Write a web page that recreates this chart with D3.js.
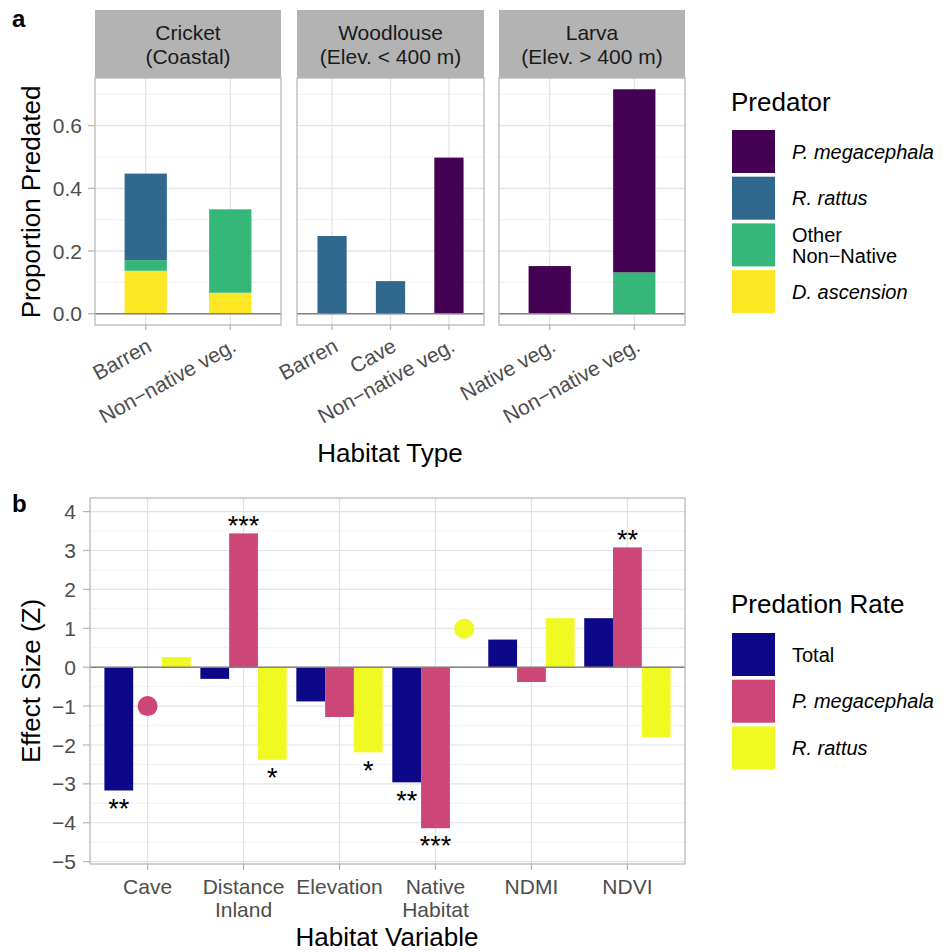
<!DOCTYPE html>
<html>
<head>
<meta charset="utf-8">
<script src="https://cdnjs.cloudflare.com/ajax/libs/d3/7.8.5/d3.min.js"></script>
<style>
  body { margin: 0; background: #fff; }
  text { font-family: "Liberation Sans", Arial, Helvetica, sans-serif; }
</style>
</head>
<body>
<script>
// ---------- panel a data ----------
var stripLabels = [["Cricket", "(Coastal)"], ["Woodlouse", "(Elev. < 400 m)"], ["Larva", "(Elev. > 400 m)"]];
var facetHabitats = [["Barren", "Non\u2212native veg."], ["Barren", "Cave", "Non\u2212native veg."], ["Native veg.", "Non\u2212native veg."]];
var predators = ["P. megacephala", "R. rattus", "Other\nNon\u2212Native", "D. ascension"];
var predatorItalic = [true, true, false, true];
var predatorColors = ["#440154", "#31688E", "#35B779", "#FDE725"];
// proportion predated, per facet, per habitat
var pMegacephala   = [[0, 0], [0, 0, 0.498], [0.152, 0.584]];
var rRattus        = [[0.276, 0], [0.248, 0.104, 0], [0, 0]];
var otherNonNative = [[0.034, 0.266], [0, 0, 0], [0, 0.132]];
var dAscension     = [[0.137, 0.067], [0, 0, 0], [0, 0]];
var ticksA = [0, 0.2, 0.4, 0.6];
var minorA = [0.1, 0.3, 0.5, 0.7];

// ---------- panel b data ----------
var habitatVars = ["Cave", "Distance\nInland", "Elevation", "Native\nHabitat", "NDMI", "NDVI"];
var rateTypes = ["Total", "P. megacephala", "R. rattus"];
var rateItalic = [false, true, true];
var rateColors = ["#0D0887", "#CC4678", "#F0F921"];
var zTotal  = [-3.17, -0.30, -0.88, -2.96, 0.71, 1.26];
var zMega   = [null, 3.44, -1.28, -4.14, -0.38, 3.08];
var zRattus = [0.26, -2.38, -2.19, null, 1.26, -1.80];
// single estimates drawn as points
var zPointMega   = [-1.0, null, null, null, null, null];
var zPointRattus = [null, null, null, 0.99, null, null];
var starsTotal  = ["**", "", "", "**", "", ""];
var starsMega   = ["", "***", "", "***", "", "**"];
var starsRattus = ["", "*", "*", "", "", ""];
var ticksB = [-5, -4, -3, -2, -1, 0, 1, 2, 3, 4];
var minorB = [-4.5, -3.5, -2.5, -1.5, -0.5, 0.5, 1.5, 2.5, 3.5];

var width = 952, height = 952;
var grey = "#4D4D4D", border = "#B3B3B3", major = "#E2E2E2", minor = "#EEEEEE";
var tickFont = "21px";

var svg = d3.select("body").append("svg")
    .attr("width", width)
    .attr("height", height);

// ================= panel a =================
var facetX = [[95, 281], [297, 484], [499, 685]];
var stripTop = 10, panelTop = 78, panelBottom = 325;
var yA = d3.scaleLinear().domain([-0.036, 0.752]).range([panelBottom, panelTop]);
var seriesA = [pMegacephala, rRattus, otherNonNative, dAscension];

svg.append("text").attr("x", 12).attr("y", 27)
    .style("font-size", "24px").style("font-weight", "bold").text("a");

facetHabitats.forEach(function(habs, f) {
  var x = d3.scalePoint().domain(habs).range(facetX[f]).padding(0.6);
  var bw = x.step() * 0.5;
  var g = svg.append("g");
  var x0 = facetX[f][0], x1 = facetX[f][1];

  // strip
  g.append("rect").attr("x", x0).attr("y", stripTop)
      .attr("width", x1 - x0).attr("height", panelTop - stripTop)
      .style("fill", "#B3B3B3");
  stripLabels[f].forEach(function(s, i) {
    g.append("text").attr("x", (x0 + x1) / 2).attr("y", 40 + i * 24)
        .attr("text-anchor", "middle").style("font-size", "21px").style("fill", "#1A1A1A").text(s);
  });

  // grid
  g.selectAll(".minor").data(minorA).enter().append("line")
      .attr("x1", x0).attr("x2", x1).attr("y1", yA).attr("y2", yA)
      .style("stroke", minor).style("stroke-width", 0.8);
  g.selectAll(".major").data(ticksA).enter().append("line")
      .attr("x1", x0).attr("x2", x1).attr("y1", yA).attr("y2", yA)
      .style("stroke", major).style("stroke-width", 1.2);
  g.selectAll(".vgrid").data(habs).enter().append("line")
      .attr("x1", x).attr("x2", x).attr("y1", panelTop).attr("y2", panelBottom)
      .style("stroke", major).style("stroke-width", 1.2);

  // stacked bars: D. ascension at bottom, P. megacephala on top
  habs.forEach(function(h, i) {
    var base = 0;
    for (var s = seriesA.length - 1; s >= 0; s--) {
      var v = seriesA[s][f][i];
      if (v > 0) {
        g.append("rect").attr("x", x(h) - bw / 2).attr("width", bw)
            .attr("y", yA(base + v)).attr("height", yA(base) - yA(base + v))
            .style("fill", predatorColors[s]);
      }
      base += v;
    }
  });

  // zero line
  g.append("line").attr("x1", x0).attr("x2", x1).attr("y1", yA(0)).attr("y2", yA(0))
      .style("stroke", "#808080").style("stroke-width", 1.6);

  g.append("rect").attr("x", x0).attr("y", panelTop)
      .attr("width", x1 - x0).attr("height", panelBottom - panelTop)
      .style("fill", "none").style("stroke", border).style("stroke-width", 1.2);

  // x ticks and rotated labels
  g.selectAll(".xt").data(habs).enter().append("line")
      .attr("x1", x).attr("x2", x).attr("y1", panelBottom).attr("y2", panelBottom + 5)
      .style("stroke", border).style("stroke-width", 1.2);
  g.selectAll(".xl").data(habs).enter().append("text")
      .attr("transform", function(d) { return "translate(" + x(d) + "," + (panelBottom + 12) + ") rotate(-29)"; })
      .attr("text-anchor", "end").attr("dy", "0.72em")
      .style("font-size", tickFont).style("fill", grey)
      .text(function(d) { return d; });
});

// y axis a
var yAxisA = svg.append("g");
yAxisA.selectAll("line").data(ticksA).enter().append("line")
    .attr("x1", 88).attr("x2", 95).attr("y1", yA).attr("y2", yA)
    .style("stroke", border).style("stroke-width", 1.2);
yAxisA.selectAll("text").data(ticksA).enter().append("text")
    .attr("x", 82).attr("y", yA).attr("dy", "0.36em").attr("text-anchor", "end")
    .style("font-size", tickFont).style("fill", grey)
    .text(d3.format(".1f"));

svg.append("text").attr("transform", "translate(40,202) rotate(-90)")
    .attr("text-anchor", "middle").style("font-size", "26px").text("Proportion Predated");
svg.append("text").attr("x", 390).attr("y", 462)
    .attr("text-anchor", "middle").style("font-size", "26px").text("Habitat Type");

// legend a
var legA = svg.append("g").attr("transform", "translate(731,0)");
legA.append("text").attr("x", 0).attr("y", 111).style("font-size", "26px").text("Predator");
predators.forEach(function(p, i) {
  var top = 130 + i * 46.7;
  legA.append("rect").attr("x", 1).attr("y", top).attr("width", 43).attr("height", 43)
      .style("fill", predatorColors[i]);
  var lines = p.split("\n");
  lines.forEach(function(l, j) {
    legA.append("text").attr("x", 61)
        .attr("y", top + 21.5 + (j - (lines.length - 1) / 2) * 21)
        .attr("dy", "0.36em")
        .style("font-size", "20px").style("font-style", predatorItalic[i] ? "italic" : "normal")
        .text(l);
  });
});

// ================= panel b =================
var bx0 = 90, bx1 = 685, bTop = 498, bBottom = 864;
var xB = d3.scalePoint().domain(habitatVars).range([bx0, bx1]).padding(0.6);
var yB = d3.scaleLinear().domain([-5.06, 4.35]).range([bBottom, bTop]);
var step = xB.step(), barW = step * 0.3;
var seriesB = [zTotal, zMega, zRattus];
var pointsB = [null, zPointMega, zPointRattus];
var starsB = [starsTotal, starsMega, starsRattus];

svg.append("text").attr("x", 12).attr("y", 512)
    .style("font-size", "24px").style("font-weight", "bold").text("b");

var gb = svg.append("g");
gb.selectAll(".minor").data(minorB).enter().append("line")
    .attr("x1", bx0).attr("x2", bx1).attr("y1", yB).attr("y2", yB)
    .style("stroke", minor).style("stroke-width", 0.8);
gb.selectAll(".major").data(ticksB).enter().append("line")
    .attr("x1", bx0).attr("x2", bx1).attr("y1", yB).attr("y2", yB)
    .style("stroke", major).style("stroke-width", 1.2);
gb.selectAll(".vgrid").data(habitatVars).enter().append("line")
    .attr("x1", xB).attr("x2", xB).attr("y1", bTop).attr("y2", bBottom)
    .style("stroke", major).style("stroke-width", 1.2);

seriesB.forEach(function(vals, s) {
  var off = (s - 1) * barW;
  habitatVars.forEach(function(h, i) {
    var v = vals[i];
    if (v !== null) {
      gb.append("rect").attr("x", xB(h) + off - barW / 2).attr("width", barW)
          .attr("y", yB(Math.max(0, v))).attr("height", Math.abs(yB(v) - yB(0)))
          .style("fill", rateColors[s]);
    }
    if (pointsB[s] && pointsB[s][i] !== null) {
      gb.append("circle").attr("cx", xB(h) + off).attr("cy", yB(pointsB[s][i])).attr("r", 10)
          .style("fill", rateColors[s]);
    }
  });
});

gb.append("line").attr("x1", bx0).attr("x2", bx1).attr("y1", yB(0)).attr("y2", yB(0))
    .style("stroke", "#808080").style("stroke-width", 1.6);

// significance stars
starsB.forEach(function(st, s) {
  var off = (s - 1) * barW;
  habitatVars.forEach(function(h, i) {
    if (!st[i]) return;
    var v = seriesB[s][i];
    var cy = yB(v + (v > 0 ? 0.32 : -0.34));
    gb.append("text").attr("x", xB(h) + off).attr("y", cy + 14)
        .attr("text-anchor", "middle").style("font-size", "27px").text(st[i]);
  });
});

gb.append("rect").attr("x", bx0).attr("y", bTop)
    .attr("width", bx1 - bx0).attr("height", bBottom - bTop)
    .style("fill", "none").style("stroke", border).style("stroke-width", 1.2);

// axes b
gb.selectAll(".yt").data(ticksB).enter().append("line")
    .attr("x1", 83).attr("x2", bx0).attr("y1", yB).attr("y2", yB)
    .style("stroke", border).style("stroke-width", 1.2);
gb.selectAll(".yl").data(ticksB).enter().append("text")
    .attr("x", 76).attr("y", yB).attr("dy", "0.36em").attr("text-anchor", "end")
    .style("font-size", tickFont).style("fill", grey)
    .text(d3.format("d"));
gb.selectAll(".xt").data(habitatVars).enter().append("line")
    .attr("x1", xB).attr("x2", xB).attr("y1", bBottom).attr("y2", bBottom + 6)
    .style("stroke", border).style("stroke-width", 1.2);
habitatVars.forEach(function(h) {
  h.split("\n").forEach(function(l, j) {
    gb.append("text").attr("x", xB(h)).attr("y", 894 + j * 23)
        .attr("text-anchor", "middle").style("font-size", tickFont).style("fill", grey).text(l);
  });
});

svg.append("text").attr("transform", "translate(40,681) rotate(-90)")
    .attr("text-anchor", "middle").style("font-size", "26px").text("Effect Size (Z)");
svg.append("text").attr("x", 387).attr("y", 946)
    .attr("text-anchor", "middle").style("font-size", "26px").text("Habitat Variable");

// legend b
var legB = svg.append("g").attr("transform", "translate(731,0)");
legB.append("text").attr("x", 0).attr("y", 613).style("font-size", "26px").text("Predation Rate");
rateTypes.forEach(function(r, i) {
  var top = 633 + i * 46.7;
  legB.append("rect").attr("x", 1).attr("y", top).attr("width", 43).attr("height", 43)
      .style("fill", rateColors[i]);
  legB.append("text").attr("x", 61).attr("y", top + 21.5).attr("dy", "0.36em")
      .style("font-size", "20px").style("font-style", rateItalic[i] ? "italic" : "normal")
      .text(r);
});
</script>
</body>
</html>
